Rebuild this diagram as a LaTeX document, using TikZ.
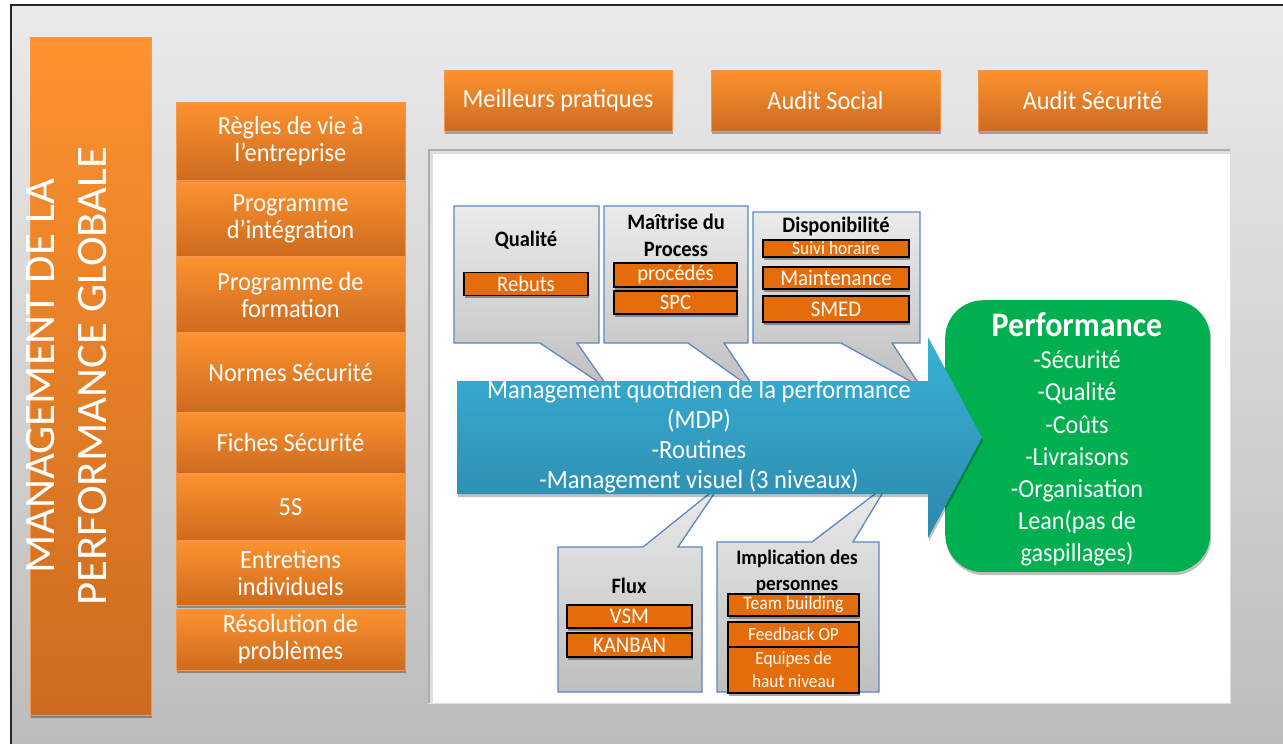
\documentclass[tikz,border=0pt]{standalone}
\usepackage{fontspec}
\setmainfont{Carlito}[FakeStretch=0.93]
\newfontfamily\vertfont{Carlito}[FakeStretch=1.03]
\usetikzlibrary{shadows}

\definecolor{orTop}{HTML}{FD922F}
\definecolor{orBot}{HTML}{CC6B1F}
\definecolor{orEdge}{HTML}{F79646}
\definecolor{orItem}{HTML}{E46C0A}
\definecolor{callEdge}{HTML}{5A87C5}
\definecolor{callTop}{HTML}{EBEBEB}
\definecolor{callBot}{HTML}{BFBFBF}
\definecolor{arTop}{HTML}{38B1D6}
\definecolor{arBot}{HTML}{2C88AB}
\definecolor{perfGreen}{HTML}{00B050}
\definecolor{bgTop}{HTML}{EAEAEA}
\definecolor{bgBot}{HTML}{BCBCBC}

\tikzset{
  softshadow/.style={drop shadow={shadow xshift=1pt, shadow yshift=-3pt, opacity=0.3, fill=black}},
  orbox/.style={draw=orEdge, line width=1pt, top color=orTop, bottom color=orBot,
    text=white, align=center, inner sep=0pt, outer sep=0pt, anchor=north west, softshadow},
  leftfont/.style={font=\fontsize{26.2}{27}\selectfont},
  itembox/.style={draw=black, line width=1.2pt, fill=orItem, text=white, align=center,
    inner sep=0pt, outer sep=0pt, anchor=north west,
    drop shadow={shadow xshift=1pt, shadow yshift=-2.5pt, opacity=0.35, fill=black}},
  bubble/.style={draw=callEdge, line width=1.3pt, top color=callTop, bottom color=callBot,
    line join=miter},
  bubbletitle/.style={font=\bfseries\fontsize{22}{27}\selectfont, text=black, align=center, inner sep=0pt},
  bigarrow/.style={top color=arTop, bottom color=arBot,
    drop shadow={shadow xshift=1pt, shadow yshift=-3pt, opacity=0.25, fill=black}},
}

\begin{document}
\begin{tikzpicture}[x=1pt, y=-1pt]
\useasboundingbox (0,0) rectangle (1283,744);

% page background and frame
\fill[white] (0,0) rectangle (1283,744);
\shade[top color=bgTop, bottom color=bgBot] (11,5) rectangle (1283,744);
\draw[black!85, line width=1.5pt] (11,744) -- (11,5) -- (1283,5);

% white working panel with inset edge
\fill[white] (428,149) rectangle (1230,703);
\draw[gray!25, line width=1pt] (1230,149) -- (1230,703) -- (428,703);
\draw[gray!25, line width=2.5pt] (431.5,703) -- (431.5,152.5) -- (1230,152.5);
\draw[gray!65, line width=1.5pt] (428.75,703) -- (428.75,149.75) -- (1230,149.75);

% vertical title bar
\node[orbox, minimum width=121, minimum height=678] (bar) at (30,37) {};
\node[text=white, rotate=90, align=center,
      font=\vertfont\fontsize{43.5}{52}\selectfont] (bartext) at (67,376)
  {MANAGEMENT DE LA\\PERFORMANCE GLOBALE};

% left column of practices
\node[orbox, leftfont, minimum width=229, minimum height=78] (r1) at (176,102) {Règles de vie à\\l’entreprise};
\node[orbox, leftfont, minimum width=229, minimum height=74] (r2) at (176,182) {Programme\\d’intégration};
\node[orbox, leftfont, minimum width=229, minimum height=75] (r3) at (176,257) {Programme de\\formation};
\node[orbox, leftfont, minimum width=229, minimum height=79] (r4) at (176,333) {Normes Sécurité};
\node[orbox, leftfont, minimum width=229, minimum height=61] (r5) at (176,412) {Fiches Sécurité};
\node[orbox, leftfont, minimum width=229, minimum height=66] (r6) at (176,474) {5S};
\node[orbox, leftfont, minimum width=229, minimum height=64] (r7) at (176,541) {Entretiens\\individuels};
\node[orbox, leftfont, minimum width=229, minimum height=61] (r8) at (176,609) {Résolution de\\problèmes};

% top row of audits
\node[orbox, leftfont, minimum width=228, minimum height=61] (t1) at (444,70) {Meilleurs pratiques};
\node[orbox, leftfont, minimum width=229, minimum height=61] (t2) at (711,70) {Audit Social};
\node[orbox, leftfont, minimum width=229, minimum height=61] (t3) at (978,70) {Audit Sécurité};

% callouts above the arrow
\path[bubble] (454,206) -- (599,206) -- (599,343) -- (577,343) -- (610,390) -- (540,343) -- (454,343) -- cycle;
\path[bubble] (604,206) -- (748,206) -- (748,343) -- (724,343) -- (757,392) -- (688,343) -- (604,343) -- cycle;
\path[bubble] (753,212) -- (920,212) -- (920,343) -- (892,343) -- (921,387) -- (841,343) -- (753,343) -- cycle;

% callouts below the arrow
\path[bubble] (558,547) -- (643,547) -- (720,485) -- (678,547) -- (702,547) -- (702,692) -- (558,692) -- cycle;
\path[bubble] (717,542) -- (812,542) -- (888,484) -- (853,542) -- (879,542) -- (879,692) -- (717,692) -- cycle;

% callout contents
\node[bubbletitle] (qual) at (526,240) {Qualité};
\node[itembox, minimum width=124, minimum height=23, font=\fontsize{22.1}{24}\selectfont] (rebuts) at (464,272.5) {Rebuts};

\node[bubbletitle] (maitrise) at (676,235.5) {Maîtrise du\\Process};
\node[itembox, minimum width=123, minimum height=24, font=\fontsize{22.1}{24}\selectfont] (procedes) at (614,263) {procédés};
\node[itembox, minimum width=123, minimum height=23, font=\fontsize{22.1}{24}\selectfont] (spc) at (614,291) {SPC};

\node[bubbletitle] (dispo) at (836,227) {Disponibilité};
\node[itembox, minimum width=146, minimum height=17, font=\fontsize{18.7}{20}\selectfont] (suivi) at (763,240) {Suivi horaire};
\node[itembox, minimum width=146, minimum height=22, font=\fontsize{22.4}{24}\selectfont] (maint) at (763,267) {Maintenance};
\node[itembox, minimum width=146, minimum height=26, font=\fontsize{22.4}{24}\selectfont] (smed) at (763,296) {SMED};

\node[bubbletitle] (flux) at (629,586) {Flux};
\node[itembox, minimum width=125, minimum height=23, font=\fontsize{22.4}{24}\selectfont] (vsm) at (567,605) {VSM};
\node[itembox, minimum width=125, minimum height=24, font=\fontsize{22.4}{24}\selectfont] (kanban) at (567,633) {KANBAN};

\node[bubbletitle, font=\bfseries\fontsize{20.6}{26}\selectfont] (impl) at (797,572) {Implication des\\personnes};
\node[itembox, minimum width=131, minimum height=22, font=\fontsize{19}{20}\selectfont] (team) at (728,594) {Team building};
\node[itembox, minimum width=131, minimum height=25, font=\fontsize{18.6}{20}\selectfont] (feedback) at (728,622) {Feedback OP};
\node[itembox, minimum width=131, minimum height=46, font=\fontsize{18.6}{23}\selectfont] (equipes) at (728,647) {Equipes de\\haut niveau};

% performance outcome
\node[fill=perfGreen, rounded corners=38, minimum width=265, minimum height=272,
      anchor=north west, inner sep=0pt,
      drop shadow={shadow xshift=1pt, shadow yshift=-3pt, opacity=0.25, fill=black}] (perf) at (945,300) {};
\node[text=white, font=\bfseries\fontsize{34.4}{36}\selectfont, inner sep=0pt] (perftitle) at (1077,325) {Performance};
\node[text=white, align=center, font=\fontsize{26}{32.2}\selectfont, inner sep=0pt] (perflist) at (1077,458.5)
  {-Sécurité\\-Qualité\\-Coûts\\-Livraisons\\-Organisation\\Lean(pas de\\gaspillages)};

% main arrow
\path[bigarrow] (457,381) -- (928,381) -- (928,337) -- (982,437.5) -- (928,538) -- (928,494) -- (457,494) -- cycle;
\node[text=white, align=center, font=\fontsize{26.4}{30}\selectfont, inner sep=0pt] (mdp) at (699,437)
  {Management quotidien de la performance\\(MDP)\\-Routines\\-Management visuel (3 niveaux)};

\end{tikzpicture}
\end{document}
